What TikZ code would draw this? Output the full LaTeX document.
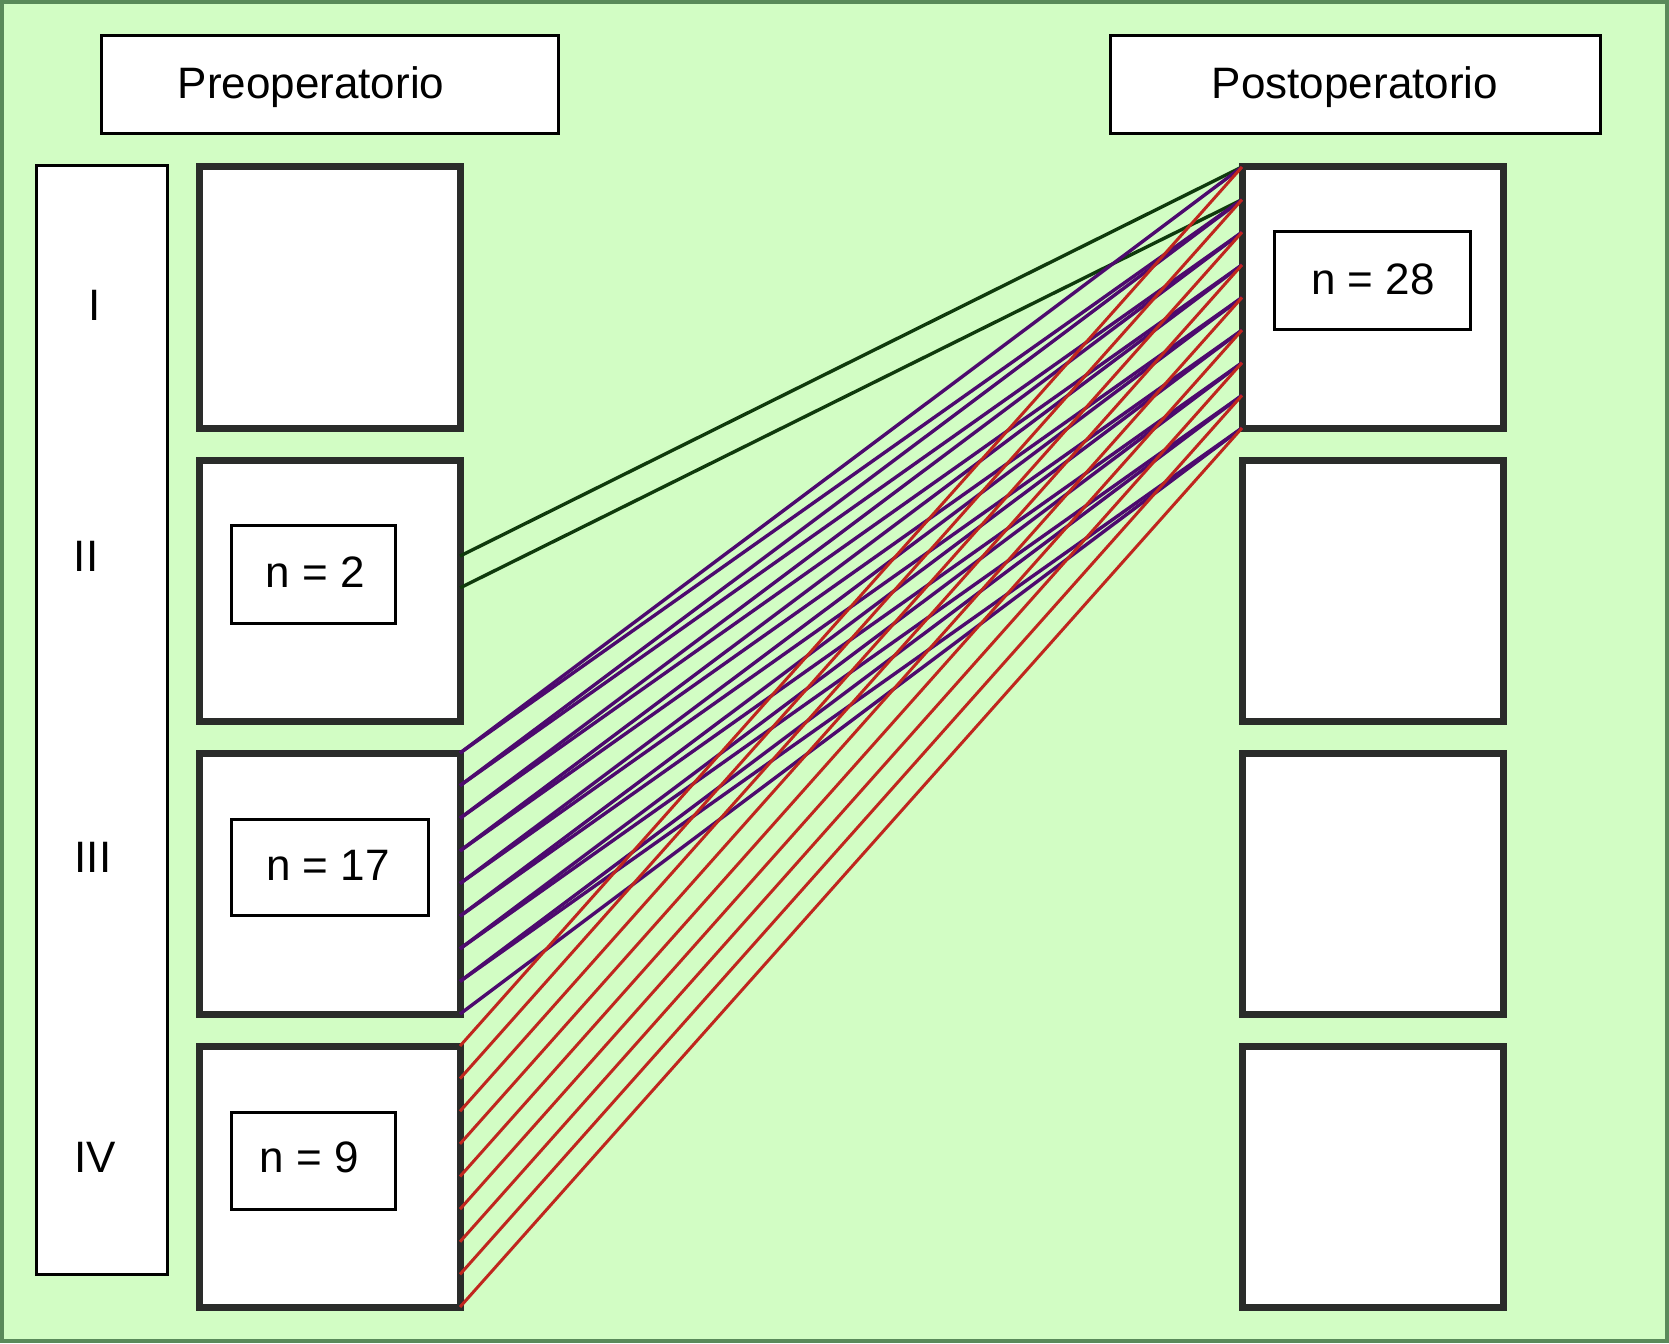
\documentclass[tikz,border=0pt]{standalone}
\usepackage{fontspec}
\setmainfont{Liberation Sans}
\usetikzlibrary{calc}
\definecolor{bg}{HTML}{D2FDC4}
\definecolor{framegreen}{HTML}{5A8A5A}
\definecolor{boxgray}{HTML}{2A2C2A}
\definecolor{lgreen}{HTML}{0F3A0C}
\definecolor{lpurple}{HTML}{4D0A6E}
\definecolor{lred}{HTML}{C0261E}
\begin{document}
\begin{tikzpicture}[x=1pt,y=-1pt,
  bigbox/.style={draw=boxgray, line width=7pt, fill=white, minimum width=261pt, minimum height=261pt, outer sep=0pt, inner sep=0pt},
  thinbox/.style={draw=black, line width=3pt, fill=white, outer sep=0pt, inner sep=0pt},
  lbl/.style={font=\fontsize{44}{50}\selectfont, inner sep=0pt},
  gline/.style={draw=lgreen, line width=3.4pt},
  pline/.style={draw=lpurple, line width=3.4pt},
  rline/.style={draw=lred, line width=3pt}]
\useasboundingbox (0,0) rectangle (1669,1343);
\fill[bg] (0,0) rectangle (1669,1343);
\draw[framegreen, line width=4pt] (2,2) rectangle (1667,1341);

% headers
\node[thinbox, minimum width=457pt, minimum height=98pt] (preh) at (329.5,85) {};
\node[lbl] (pretext) at (311,87) {Preoperatorio};
\node[thinbox, minimum width=490pt, minimum height=98pt] (posth) at (1355,85) {};
\node[lbl] (posttext) at (1355,87) {Postoperatorio};

% left tall box
\node[thinbox, minimum width=131pt, minimum height=1108pt] (tall) at (101.5,720) {};
\node[lbl] (l1) at (94.5,305) {I};
\node[lbl] (l2) at (86,556) {II};
\node[lbl] (l3) at (93,857) {III};
\node[lbl] (l4) at (95,1157) {IV};

% pre boxes
\node[bigbox] (pre1) at (329.5,297.5) {};
\node[bigbox] (pre2) at (329.5,590.5) {};
\node[bigbox] (pre3) at (329.5,883.5) {};
\node[bigbox] (pre4) at (329.5,1176.5) {};
% post boxes
\node[bigbox] (post1) at (1372.5,297.5) {};
\node[bigbox] (post2) at (1372.5,590.5) {};
\node[bigbox] (post3) at (1372.5,883.5) {};
\node[bigbox] (post4) at (1372.5,1176.5) {};

% count boxes
\node[thinbox, minimum width=164pt, minimum height=98pt] (n2) at (313,574) {};
\node[lbl] (t2) at (315,572) {n = 2};
\node[thinbox, minimum width=197pt, minimum height=96pt] (n17) at (329.5,867) {};
\node[lbl] (t17) at (328,865) {n = 17};
\node[thinbox, minimum width=164pt, minimum height=97pt] (n9) at (313,1160.5) {};
\node[lbl] (t9) at (309,1157) {n = 9};
\node[thinbox, minimum width=196pt, minimum height=98pt] (n28) at (1372,280) {};
\node[lbl] (t28) at (1373,279) {n = 28};

% connection points
\foreach \k in {0,...,8} {
  \coordinate (R\k) at ($(post1.north west)!\k/8!(post1.south west)$);
  \coordinate (P\k) at ($(pre3.north east)!\k/8!(pre3.south east)$);
  \coordinate (Q\k) at ($(pre4.north east)!\k/8!(pre4.south east)$);
}
\coordinate (G0) at ($(pre2.north east)!0.368!(pre2.south east)$);
\coordinate (G1) at ($(pre2.north east)!0.49!(pre2.south east)$);

% green
\draw[gline] (G0) -- (R0);
\draw[gline] (G1) -- (R1);
% purple
\foreach \k in {0,...,8} { \draw[pline] (P\k) -- (R\k); }
\foreach \k [evaluate=\k as \j using int(\k+1)] in {0,...,7} { \draw[pline] (P\k) -- (R\j); }
% red
\foreach \k in {0,...,8} { \draw[rline] (Q\k) -- (R\k); }
\end{tikzpicture}
\end{document}
